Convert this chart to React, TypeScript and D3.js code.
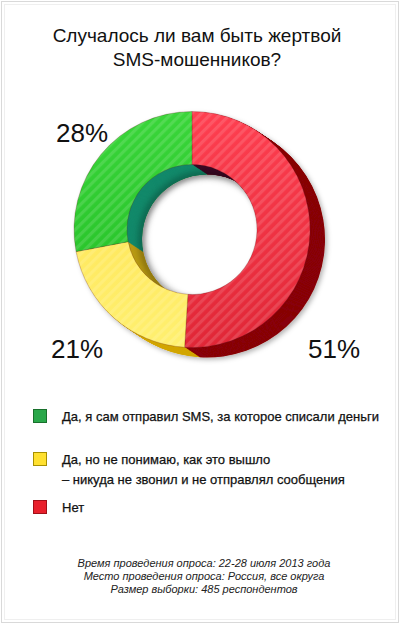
import React from "react";
import * as d3 from "d3";

// --- data ---
const titleLines = ["Случалось ли вам быть жертвой", "SMS-мошенников?"];
const categories = [
  "Да, я сам отправил SMS, за которое списали деньги",
  "Да, но не понимаю, как это вышло\n– никуда не звонил и не отправлял сообщения",
  "Нет",
];
const values = [28, 21, 51];
// clockwise from 12 o'clock: Нет, then "Да, но...", then "Да, я сам..."
const drawOrder = [2, 1, 0];
const footnotes = [
  "Время проведения опроса: 22-28 июля 2013 года",
  "Место проведения опроса: Россия, все округа",
  "Размер выборки: 485 респондентов",
];

// --- styles ---
const faceTop = ["#3ad63a", "#ffe04a", "#ff3f50"];
const faceBottom = ["#1fbb22", "#fff070", "#e02636"];
const outerWall = ["#178a30", "#d2a600", "#880008"];
const innerWall = ["#12896a", "#b99a14", "#3e0a26"];
const legendFill = ["#2aa84a", "#ffe030", "#e8202c"];
const legendStroke = ["#19702c", "#a89000", "#a01018"];
// label baseline offsets from the donut centre
const labelOffset = [[-110, -88], [-115, 128], [142, 128]];

const W = 400;
const H = 624;
const cx = 192;
const cy = 229.5;
const rOuter = 118;
const rInner = 65;
const depthX = 15;
const depthY = 10;
const steps = 24;
const font = "'Liberation Sans', Arial, sans-serif";

export default function App() {
  const pie = d3
    .pie<number>()
    .sort(null)
    .value((i) => values[i]);
  const slices = pie(drawOrder);
  const arc = d3.arc<d3.PieArcDatum<number>>().innerRadius(rInner).outerRadius(rOuter);
  const total = d3.sum(values);

  const layers = d3.range(steps, 0, -1);

  // stacked, shifted copies of the ring make the 3D side walls
  const wallStack = (colors: string[]) =>
    layers.map((s) => (
      <g key={s} transform={`translate(${cx + (depthX * s) / steps},${cy + (depthY * s) / steps})`}>
        {slices.map((d) => (
          <path key={d.data} d={arc(d) || ""} fill={colors[d.data]} />
        ))}
      </g>
    ));

  return (
    <svg
      width={W}
      height={H}
      style={{ position: "absolute", left: 0, top: 0, background: "#fff" }}
      fontFamily={font}
    >
      <defs>
        <pattern id="stripes" width="7" height="7" patternUnits="userSpaceOnUse" patternTransform="rotate(-45)">
          <rect x="0" y="0" width="7" height="3.2" fill="#fff" opacity="0.13" />
        </pattern>
        {faceTop.map((c, i) => (
          <linearGradient key={i} id={`face${i}`} gradientUnits="userSpaceOnUse" x1={0} y1={-rOuter} x2={0} y2={rOuter}>
            <stop offset="0" stopColor={c} />
            <stop offset="1" stopColor={faceBottom[i]} />
          </linearGradient>
        ))}
        <clipPath id="hole">
          <circle cx={cx} cy={cy} r={rInner} />
        </clipPath>
        <filter id="blur" x="-20%" y="-20%" width="140%" height="140%">
          <feGaussianBlur stdDeviation="3" />
        </filter>
        <filter id="drop" x="-10%" y="-10%" width="130%" height="130%">
          <feDropShadow dx="2" dy="2" stdDeviation="2.5" floodColor="#000" floodOpacity="0.3" />
        </filter>
      </defs>

      {/* frame */}
      <rect x={1.5} y={1.5} width={W - 3} height={H - 3} fill="none" stroke="#d9d9d9" />
      <rect x={4.5} y={4.5} width={W - 9} height={H - 9} fill="none" stroke="#efefef" />

      {/* title */}
      <text x={197} textAnchor="middle" fontSize={19} fill="#111">
        {titleLines.map((t, i) => (
          <tspan key={i} x={197} y={42 + i * 24}>
            {t}
          </tspan>
        ))}
      </text>

      {/* donut: extruded side walls */}
      <g filter="url(#drop)">{wallStack(outerWall)}</g>
      <g clipPath="url(#hole)">
        {wallStack(innerWall)}
        <circle
          cx={cx + depthX}
          cy={cy + depthY}
          r={rInner}
          fill="none"
          stroke="#000"
          strokeOpacity={0.28}
          strokeWidth={7}
          filter="url(#blur)"
        />
      </g>

      {/* donut: front face */}
      <g transform={`translate(${cx},${cy})`}>
        {slices.map((d) => (
          <path
            key={d.data}
            d={arc(d) || ""}
            fill={`url(#face${d.data})`}
            stroke="#5a1010"
            strokeOpacity={0.35}
            strokeWidth={0.7}
          />
        ))}
        {slices.map((d) => (
          <path key={d.data} d={arc(d) || ""} fill="url(#stripes)" />
        ))}
      </g>

      {/* percentage labels */}
      {slices.map((d) => (
        <text
          key={d.data}
          x={cx + labelOffset[d.data][0]}
          y={cy + labelOffset[d.data][1]}
          textAnchor="middle"
          fontSize={26}
          fill="#111"
        >
          {`${Math.round((values[d.data] / total) * 100)}%`}
        </text>
      ))}

      {/* legend */}
      {categories.map((c, i) => {
        const top = [409, 452, 500][i];
        const lines = c.split("\n");
        return (
          <g key={i}>
            <rect x={33.5} y={top + 0.5} width={13} height={13} fill={legendFill[i]} stroke={legendStroke[i]} />
            {lines.map((l, j) => (
              <text
                key={j}
                x={62}
                y={top + 12 + j * 20}
                fontSize={13}
                fill="#111"
                stroke="#111"
                strokeWidth={0.25}
              >
                {l}
              </text>
            ))}
          </g>
        );
      })}

      {/* footnotes */}
      {footnotes.map((f, i) => (
        <text key={i} x={204} y={567 + i * 13} textAnchor="middle" fontSize={11} fontStyle="italic" fill="#222">
          {f}
        </text>
      ))}
    </svg>
  );
}
